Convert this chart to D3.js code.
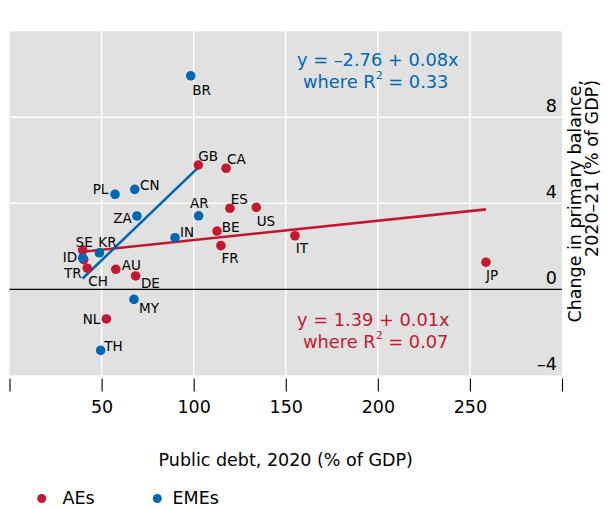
<!DOCTYPE html>
<html>
<head>
<meta charset="utf-8">
<script src="https://cdn.jsdelivr.net/npm/d3@7"></script>
<style>
  html, body { margin: 0; padding: 0; background: #fff; }
  svg { display: block; font-family: "DejaVu Sans", sans-serif; }
</style>
</head>
<body>
<svg id="chart" width="607" height="509"></svg>
<script>
// ---- data ----
const countries = ["GB","CA","ES","US","BE","FR","IT","JP","SE","CH","TR","AU","DE","NL",
                   "BR","PL","CN","ZA","AR","IN","KR","ID","MY","TH"];
const groups    = ["AE","AE","AE","AE","AE","AE","AE","AE","AE","AE","AE","AE","AE","AE",
                   "EME","EME","EME","EME","EME","EME","EME","EME","EME","EME"];
const publicDebt = [102.5,117.6,119.7,134.0,112.7,114.8,155.0,258.7,39.7,40.3,42.2,57.7,68.5,52.6,
                    98.4,57.3,68.0,69.2,102.7,89.9,48.8,39.7,67.6,49.5];
const balanceChange = [5.78,5.63,3.77,3.81,2.71,2.03,2.49,1.26,1.83,1.38,0.98,0.93,0.62,-1.38,
                       9.93,4.42,4.65,3.41,3.42,2.40,1.70,1.46,-0.47,-2.84];
const xTicks = [0,50,100,150,200,250,300];
const xTickLabels = ["","50","100","150","200","250",""];
const yTicks = [-4,0,4,8];
const yTickLabels = ["\u20134","0","4","8"];
const fitGroups = ["AE","EME"];
const fitIntercept = [1.39, -2.76];
const fitSlope = [0.009, 0.0822];
const eqLine1 = ["y = 1.39 + 0.01x", "y = \u20132.76 + 0.08x"];
const eqR2 = ["0.07", "0.33"];
const legendLabels = ["AEs","EMEs"];
const xTitle = "Public debt, 2020 (% of GDP)";
const yTitle = ["Change in primary balance,", "2020\u201321 (% of GDP)"];

// ---- label placement (styling) ----
const labelPos = {
  GB:[0,-4.5,"start"], CA:[1,-4,"start"], ES:[0.7,-4.3,"start"], US:[0.4,18.7,"start"],
  BE:[4.7,0.7,"start"], FR:[0.7,17.6,"start"], IT:[0.7,17.6,"start"], JP:[0,17.7,"start"],
  SE:[-7,-3.3,"start"], CH:[4.5,26.5,"start"], TR:[-5.6,9.6,"end"], AU:[6,0.7,"start"],
  DE:[5.3,11.7,"start"], NL:[-6,5.3,"end"], BR:[1.6,19.3,"start"], PL:[-6.7,0,"end"],
  CN:[5.3,0.7,"start"], ZA:[-5.3,7.3,"end"], AR:[-8.7,-7.4,"start"], IN:[5,-0.4,"start"],
  KR:[-1,-6,"start"], ID:[-5.4,3.6,"end"], MY:[5,14,"start"], TH:[3.6,0.7,"start"]
};

const colors = { AE: "#c3182f", EME: "#0068b2" };
const points = countries.map((c,i) => ({c, g: groups[i], x: publicDebt[i], y: balanceChange[i]}));

const svg = d3.select("#chart");
const x = d3.scaleLinear().domain([0,300]).range([9.5, 562]);
const y = d3.scaleLinear().domain([-4,12]).range([375.3, 31.3]);

// plot background
svg.append("rect")
  .attr("x", x(0)).attr("y", y(12))
  .attr("width", x(300)-x(0)).attr("height", y(-4)-y(12))
  .attr("fill", "#e1e1e1");

// vertical gridlines
svg.append("g").selectAll("line")
  .data(xTicks.filter(d => d > 0 && d < 300)).join("line")
  .attr("x1", d => x(d)).attr("x2", d => x(d))
  .attr("y1", y(12)).attr("y2", y(-4))
  .attr("stroke", "#fff").attr("stroke-width", 1.5);

// horizontal gridlines
svg.append("g").selectAll("line")
  .data(yTicks.filter(d => d > 0)).join("line")
  .attr("x1", x(0)).attr("x2", x(300))
  .attr("y1", d => y(d)).attr("y2", d => y(d))
  .attr("stroke", "#fff").attr("stroke-width", 1.5);

// zero line
svg.append("line")
  .attr("x1", x(0)).attr("x2", x(300))
  .attr("y1", y(0)).attr("y2", y(0))
  .attr("stroke", "#000").attr("stroke-width", 1.2);

// y tick labels (inside, right)
svg.append("g").selectAll("text")
  .data(yTicks).join("text")
  .attr("x", 557).attr("y", d => y(d) - 5)
  .attr("text-anchor", "end")
  .attr("font-size", 17.5).attr("fill", "#000")
  .text((d,i) => yTickLabels[i]);

// x axis
const xAxis = d3.axisBottom(x).tickValues(xTicks).tickSize(13).tickPadding(9)
  .tickFormat((d,i) => xTickLabels[i]);
const gx = svg.append("g").attr("transform", "translate(0,378.5)").call(xAxis);
gx.select(".domain").remove();
gx.selectAll(".tick line").attr("stroke", "#000").attr("stroke-width", 1.1);
gx.selectAll(".tick text").attr("font-size", 17.5).attr("font-family", "DejaVu Sans").attr("fill", "#000");

// x title
svg.append("text")
  .attr("x", (x(0)+x(300))/2).attr("y", 466)
  .attr("text-anchor", "middle").attr("font-size", 17.5).attr("fill", "#000")
  .text(xTitle);

// y title
const yt = svg.append("text")
  .attr("transform", "translate(581,80) rotate(-90)")
  .attr("text-anchor", "end").attr("font-size", 17.5).attr("fill", "#000");
yt.append("tspan").attr("x", 0).attr("y", 0).text(yTitle[0]);
yt.append("tspan").attr("x", 0).attr("y", 17).text(yTitle[1]);

// fit lines
fitGroups.forEach((g, i) => {
  const ext = d3.extent(points.filter(p => p.g === g), p => p.x);
  svg.append("line")
    .attr("x1", x(ext[0])).attr("y1", y(fitIntercept[i] + fitSlope[i]*ext[0]))
    .attr("x2", x(ext[1])).attr("y2", y(fitIntercept[i] + fitSlope[i]*ext[1]))
    .attr("stroke", colors[g]).attr("stroke-width", 2.6);
});

// points (AE first, then EME on top)
svg.append("g").selectAll("circle")
  .data(points).join("circle")
  .attr("cx", d => x(d.x)).attr("cy", d => y(d.y))
  .attr("r", 4.8).attr("fill", d => colors[d.g]);

// point labels
svg.append("g").selectAll("text")
  .data(points).join("text")
  .attr("x", d => x(d.x) + labelPos[d.c][0])
  .attr("y", d => y(d.y) + labelPos[d.c][1])
  .attr("text-anchor", d => labelPos[d.c][2])
  .attr("font-size", 13.5).attr("fill", "#000")
  .text(d => d.c);

// equations
const eqY = { AE: [326, 348], EME: [66, 88] };
fitGroups.forEach((g, i) => {
  svg.append("text")
    .attr("x", 297).attr("y", eqY[g][0])
    .attr("font-size", 17.8).attr("fill", colors[g])
    .text(eqLine1[i]);
  const t = svg.append("text")
    .attr("x", 303).attr("y", eqY[g][1])
    .attr("font-size", 17.8).attr("fill", colors[g]);
  t.append("tspan").text("where R");
  t.append("tspan").attr("font-size", 11).attr("dy", -9).text("2");
  t.append("tspan").attr("dy", 9).text(" = " + eqR2[i]);
});

// legend
const lg = svg.append("g");
legendLabels.forEach((lab, i) => {
  const lx = [41.7, 157.3][i];
  lg.append("circle").attr("cx", lx).attr("cy", 498.5).attr("r", 4.5)
    .attr("fill", colors[fitGroups[i]]);
  lg.append("text").attr("x", [62.5, 172.5][i]).attr("y", 504)
    .attr("font-size", 17.5).attr("fill", "#000").text(lab);
});
</script>
</body>
</html>
